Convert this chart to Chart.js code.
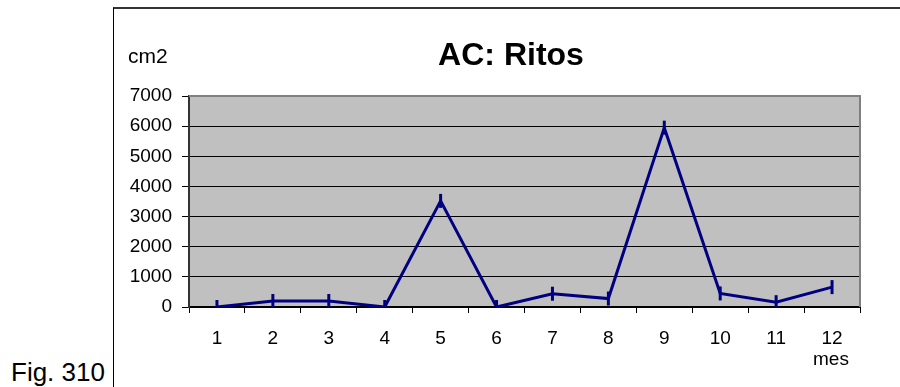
<!DOCTYPE html>
<html>
<head>
<meta charset="utf-8">
<script src="https://cdn.jsdelivr.net/npm/chart.js@4.4.0/dist/chart.umd.min.js"></script>
<style>
  html, body { margin: 0; padding: 0; width: 900px; height: 387px; overflow: hidden; background: #fff; }
  body { position: relative; font-family: "Liberation Sans", Arial, sans-serif; color: #000; }
  #box { position: absolute; left: 113px; top: 7px; width: 800px; height: 390px;
         border-left: 1px solid #000; border-top: 2px solid #333; }
  #wrap { position: absolute; left: 114px; top: 9px; width: 794px; height: 378px; }
  .lbl { position: absolute; white-space: nowrap; line-height: 1; }
  #title { left: 311px; width: 400px; top: 38px; text-align: center; font-size: 32px; font-weight: bold; }
</style>
</head>
<body>
<div id="box"></div>
<div id="wrap"><canvas id="chart" width="794" height="378"></canvas></div>
<div class="lbl" id="title">AC: Ritos</div>
<div class="lbl" style="left:128px; top:45px; font-size:21px;">cm2</div>
<div class="lbl" style="left:813px; top:349px; font-size:19px;">mes</div>
<div class="lbl" style="left:11px; top:359px; font-size:26px;">Fig. 310</div>
<script>
// months and values (cm2)
const meses = ['1', '2', '3', '4', '5', '6', '7', '8', '9', '10', '11', '12'];
const ritos = [0, 200, 200, 0, 3520, 0, 440, 280, 5950, 450, 160, 660];
const yTicks = [0, 1000, 2000, 3000, 4000, 5000, 6000, 7000];

const fontFam = '"Liberation Sans", Arial, sans-serif';

// gray plot background and gray top/right frame
const plotFrame = {
    id: 'plotFrame',
    beforeDraw(chart) {
        const a = chart.chartArea, c = chart.ctx;
        c.save();
        c.fillStyle = '#c0c0c0';
        c.fillRect(a.left, a.top, a.right - a.left, a.bottom - a.top);
        c.restore();
    },
    beforeDatasetsDraw(chart) {
        const a = chart.chartArea, c = chart.ctx;
        c.save();
        c.strokeStyle = '#808080';
        c.lineWidth = 2;
        c.beginPath();
        c.moveTo(a.left, a.top);
        c.lineTo(a.right, a.top);
        c.lineTo(a.right, a.bottom);
        c.stroke();
        c.restore();
    }
};

new Chart(document.getElementById('chart').getContext('2d'), {
    type: 'line',
    data: {
        labels: meses,
        datasets: [{
            label: 'AC: Ritos',
            data: ritos,
            borderColor: '#000080',
            backgroundColor: '#000080',
            borderWidth: 3,
            tension: 0,
            pointStyle: 'line',
            rotation: 90,
            pointRadius: 7,
            pointBorderWidth: 3,
            pointBorderColor: '#000080'
        }]
    },
    options: {
        responsive: false,
        animation: false,
        layout: { padding: { left: 0, right: 48, top: 87, bottom: 0 } },
        plugins: {
            legend: { display: false },
            tooltip: { enabled: false },
            title: { display: false }
        },
        scales: {
            x: {
                type: 'category',
                offset: true,
                grid: { offset: true, drawOnChartArea: false, drawTicks: true, tickLength: 6, color: '#000' },
                border: { display: true, color: '#000', width: 2 },
                ticks: { color: '#000', padding: 14, font: { family: fontFam, size: 19 }, maxRotation: 0 },
                afterFit(s) { s.height = 80; }
            },
            y: {
                min: 0,
                max: 7000,
                afterBuildTicks(s) { s.ticks = yTicks.map(v => ({ value: v })); },
                grid: { color: '#000', lineWidth: 1, tickLength: 7 },
                border: { display: true, color: '#333', width: 2 },
                ticks: { color: '#000', padding: 10, font: { family: fontFam, size: 19 }, callback: v => String(v) },
                afterFit(s) { s.width = 75; }
            }
        }
    },
    plugins: [plotFrame]
});
</script>
</body>
</html>
